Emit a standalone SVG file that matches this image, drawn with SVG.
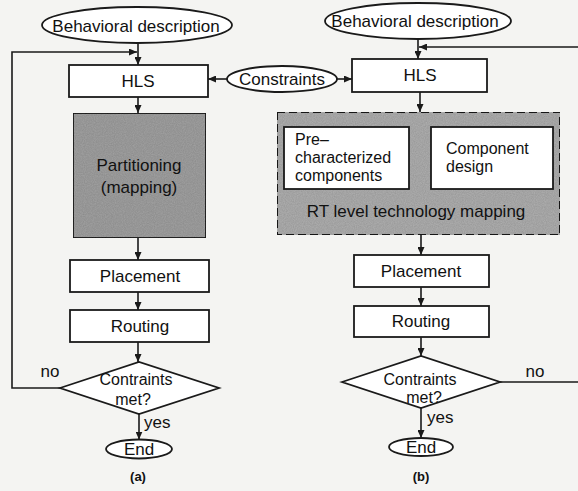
<svg xmlns="http://www.w3.org/2000/svg" width="578" height="491" viewBox="0 0 578 491">
  <defs>
    <marker id="arrow" viewBox="0 0 8 7" markerWidth="8" markerHeight="7" refX="8" refY="3.5" orient="auto" markerUnits="userSpaceOnUse">
      <path d="M0,0 L8,3.5 L0,7 z" fill="#1a1a1a"/>
    </marker>
    <filter id="grain" x="0" y="0" width="100%" height="100%">
      <feTurbulence type="fractalNoise" baseFrequency="0.9" numOctaves="2" seed="3" result="n"/>
      <feColorMatrix in="n" type="matrix" values="0 0 0 0 0  0 0 0 0 0  0 0 0 0 0  0 0 0 0.3 0" result="dots"/>
      <feComposite in="dots" in2="SourceGraphic" operator="in" result="speck"/>
      <feMerge><feMergeNode in="SourceGraphic"/><feMergeNode in="speck"/></feMerge>
    </filter>
    <style>
      .box { fill: #ffffff; stroke: #1a1a1a; stroke-width: 1.8; }
      .term { fill: #ffffff; stroke: #1a1a1a; stroke-width: 1.8; }
      .shade { fill: #a2a2a2; stroke: #1a1a1a; stroke-width: 1.8; }
      .dashed { fill: #b0b0b0; stroke: #1a1a1a; stroke-width: 2; stroke-dasharray: 8 4; }
      .wire { fill: none; stroke: #1a1a1a; stroke-width: 1.6; }
      text { font-family: "Liberation Sans", Arial, sans-serif; font-size: 17px; fill: #111111; }
      .c { text-anchor: middle; }
      .s { font-size: 16px; }
      .cap { font-size: 13px; font-weight: bold; }
    </style>
  </defs>

  <rect width="578" height="491" fill="#f4f4f2"/>

  <!-- connectors -->
  <g id="connectors">
    <!-- flow (a) -->
    <path class="wire" d="M138,43 V65" marker-end="url(#arrow)"/>
    <path class="wire" d="M60,388 H12 V52 H137" marker-end="url(#arrow)"/>
    <path class="wire" d="M138,97 V113" marker-end="url(#arrow)"/>
    <path class="wire" d="M138,238 V260" marker-end="url(#arrow)"/>
    <path class="wire" d="M138,292 V310" marker-end="url(#arrow)"/>
    <path class="wire" d="M138,342 V362" marker-end="url(#arrow)"/>
    <path class="wire" d="M139,414 V439.5" marker-end="url(#arrow)"/>
    <!-- constraints feed both HLS steps -->
    <path class="wire" d="M227,79 H208" marker-end="url(#arrow)"/>
    <path class="wire" d="M337,79 H352" marker-end="url(#arrow)"/>
    <!-- flow (b) -->
    <path class="wire" d="M418,39 V59" marker-end="url(#arrow)"/>
    <path class="wire" d="M500,382 H590 V47 H419" marker-end="url(#arrow)"/>
    <path class="wire" d="M420,92 V112" marker-end="url(#arrow)"/>
    <path class="wire" d="M421,235 V255" marker-end="url(#arrow)"/>
    <path class="wire" d="M421,287 V306" marker-end="url(#arrow)"/>
    <path class="wire" d="M421,337 V356" marker-end="url(#arrow)"/>
    <path class="wire" d="M421,408 V438" marker-end="url(#arrow)"/>
  </g>

  <!-- flow (a) -->
  <g id="a-behavioral">
    <ellipse class="term" cx="137" cy="25" rx="95" ry="18"/>
    <text class="c" x="136" y="32">Behavioral description</text>
  </g>
  <g id="a-hls">
    <rect class="box" x="69" y="65" width="139" height="32"/>
    <text class="c" x="138" y="87">HLS</text>
  </g>
  <g id="a-partitioning">
    <rect class="shade" x="73" y="113" width="133" height="125" filter="url(#grain)"/>
    <text class="c" x="139" y="171">Partitioning</text>
    <text class="c" x="139" y="193">(mapping)</text>
  </g>
  <g id="a-placement">
    <rect class="box" x="70" y="260" width="139" height="32"/>
    <text class="c" x="140" y="282">Placement</text>
  </g>
  <g id="a-routing">
    <rect class="box" x="70" y="310" width="139" height="32"/>
    <text class="c" x="140" y="332">Routing</text>
  </g>
  <g id="a-check">
    <polygon class="box" points="60,388 139,362 219,388 139,414"/>
    <text class="c s" x="136" y="385">Contraints</text>
    <text class="c s" x="133" y="405">met?</text>
    <text class="c" x="50" y="377">no</text>
    <text x="144" y="428">yes</text>
  </g>
  <g id="a-end">
    <ellipse class="term" cx="139" cy="449" rx="33" ry="9.5"/>
    <text class="c" x="139" y="455">End</text>
  </g>
  <text class="c cap" x="138" y="481">(a)</text>

  <!-- shared constraints -->
  <g id="constraints">
    <ellipse class="term" cx="282" cy="79" rx="55" ry="13"/>
    <text class="c" x="282" y="85">Constraints</text>
  </g>

  <!-- flow (b) -->
  <g id="b-behavioral">
    <ellipse class="term" cx="418" cy="21" rx="93" ry="18"/>
    <text class="c" x="415" y="27">Behavioral description</text>
  </g>
  <g id="b-hls">
    <rect class="box" x="352" y="59" width="135" height="33"/>
    <text class="c" x="420" y="81">HLS</text>
  </g>
  <g id="b-rt-mapping">
    <rect class="dashed" x="277" y="112" width="283" height="123" filter="url(#grain)"/>
    <text class="c" x="416" y="217">RT level technology mapping</text>
  </g>
  <g id="b-precharacterized">
    <rect class="box" x="284" y="127" width="125" height="62"/>
    <text class="s" x="295" y="145">Pre–</text>
    <text class="s" x="295" y="163">characterized</text>
    <text class="s" x="295" y="181">components</text>
  </g>
  <g id="b-component-design">
    <rect class="box" x="431" y="127" width="122" height="62"/>
    <text class="s" x="446" y="154">Component</text>
    <text class="s" x="446" y="172">design</text>
  </g>
  <g id="b-placement">
    <rect class="box" x="354" y="255" width="135" height="32"/>
    <text class="c" x="421" y="277">Placement</text>
  </g>
  <g id="b-routing">
    <rect class="box" x="354" y="306" width="135" height="31"/>
    <text class="c" x="421" y="327">Routing</text>
  </g>
  <g id="b-check">
    <polygon class="box" points="342,382 421,356 500,382 421,408"/>
    <text class="c s" x="420" y="385">Contraints</text>
    <text class="c s" x="424" y="403">met?</text>
    <text class="c" x="535" y="377">no</text>
    <text x="427" y="423">yes</text>
  </g>
  <g id="b-end">
    <ellipse class="term" cx="421" cy="447" rx="32" ry="9"/>
    <text class="c" x="421" y="453">End</text>
  </g>
  <text class="c cap" x="421" y="481">(b)</text>
</svg>
